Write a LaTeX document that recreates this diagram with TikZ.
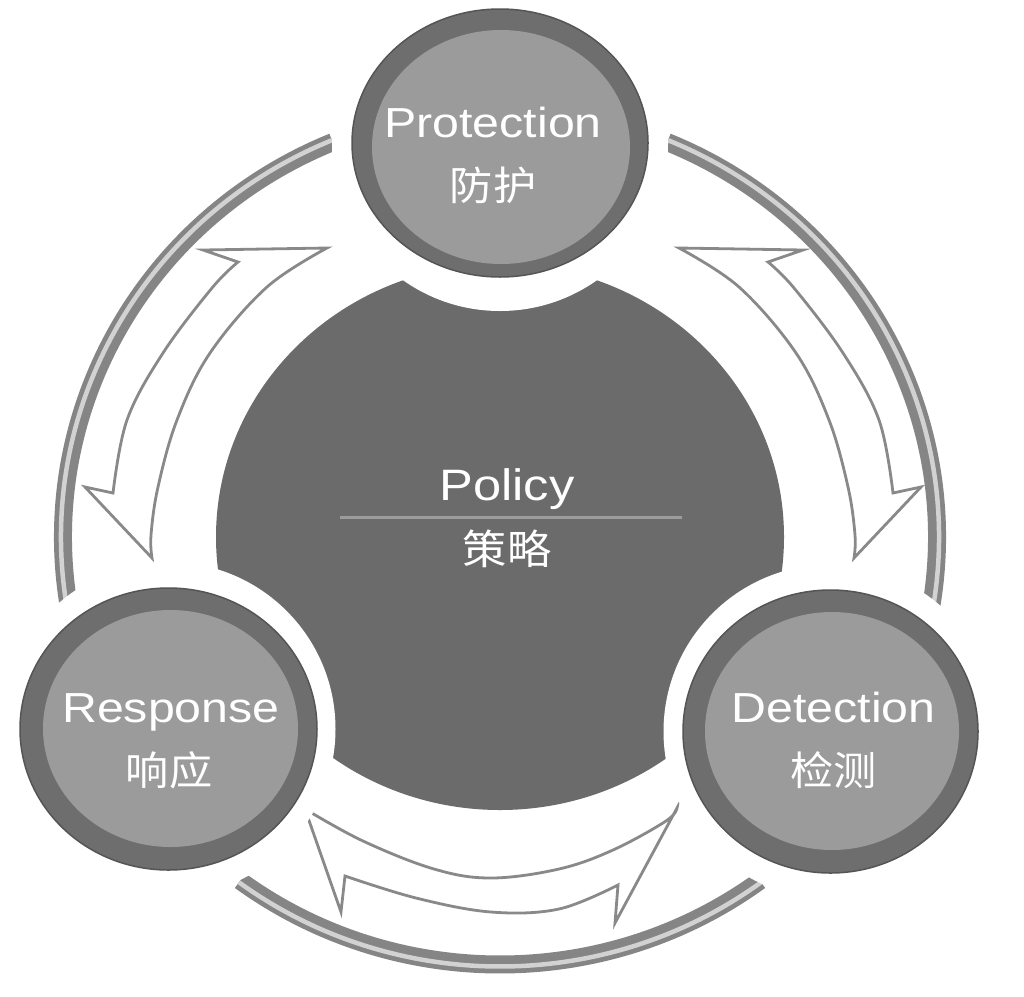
\documentclass[tikz,border=0pt]{standalone}
\usepackage{fontspec}
\setmainfont{Liberation Sans}
\newfontfamily\latfont[FakeStretch=1.15]{Liberation Sans}
\newfontfamily\cjkfont[FakeStretch=1.08]{Noto Sans CJK SC}
\usetikzlibrary{shapes.geometric}
\definecolor{centralgray}{HTML}{6B6B6B}
\definecolor{ringdark}{HTML}{6E6E6E}
\definecolor{ringedge}{HTML}{555555}
\definecolor{innergray}{HTML}{9B9B9B}
\definecolor{arrowgray}{HTML}{898989}
\definecolor{tubegray}{HTML}{858585}
\definecolor{tubelight}{HTML}{D2D2D2}
\definecolor{linegray}{HTML}{9C9C9C}
\begin{document}
\begin{tikzpicture}[x=1pt,y=1pt,yscale=-1,
  latin/.style={text=white, font=\latfont\fontsize{42}{42}\selectfont, inner sep=0, anchor=base},
  cjk/.style={text=white, font=\cjkfont\fontsize{40}{40}\selectfont, inner sep=0, anchor=base},
  blockarrow/.style={draw=arrowgray, line width=2.8, fill=white, line join=miter},
  tube/.style={draw=tubegray, line width=18},
  tubehi/.style={draw=tubelight, line width=4.5},
  disc/.style={ellipse, fill=ringdark, draw=ringedge, line width=1.5, inner sep=0},
  core/.style={ellipse, fill=centralgray, inner sep=0}]
\fill[white] (0,0) rectangle (1024,996);
\useasboundingbox (0,0) rectangle (1024,996);
\coordinate (C) at (500,537);
\coordinate (pc) at (500,143);
\coordinate (rc) at (168.5,729);
\coordinate (dc) at (830.5,731.5);
% outer ring (three segments)
\foreach \a/\b in {112.5/190, 233.5/306.5, 350/427.5}{
  \draw[tube] (C) ++(-\a:437 and 427.5) arc[start angle=-\a, end angle=-\b, x radius=437, y radius=427.5];
  \draw[tubehi] (C) ++(-\a:439 and 429.5) arc[start angle=-\a, end angle=-\b, x radius=439, y radius=429.5];
}
% left arrow
\draw[blockarrow] (203,250) -- (327,248)
  -- plot[smooth, tension=0.6] coordinates {(327,248) (267,287) (210,353) (177,420) (158,487) (151,535) (152,558)}
  -- (85,487) -- (113,493)
  -- plot[smooth, tension=0.6] coordinates {(113,493) (127,420) (163,353) (212,288) (238,262)}
  -- cycle;
% right arrow (mirror)
\begin{scope}[xshift=1006pt, xscale=-1]
\draw[blockarrow] (203,250) -- (327,248)
  -- plot[smooth, tension=0.6] coordinates {(327,248) (267,287) (210,353) (177,420) (158,487) (151,535) (152,558)}
  -- (85,487) -- (113,493)
  -- plot[smooth, tension=0.6] coordinates {(113,493) (127,420) (163,353) (212,288) (238,262)}
  -- cycle;
\end{scope}
% bottom arrow
\draw[blockarrow] (305,809)
  -- plot[smooth, tension=0.6] coordinates {(305,809) (363,841) (434,869) (491,878) (559,869) (613,850) (666,821) (677,808)}
  -- (615,923) -- (618,885)
  -- plot[smooth, tension=0.6] coordinates {(618,885) (559,909) (491,912) (416,898) (345,876)}
  -- (341,912) -- cycle;
% central circle
\node[core, minimum width=568pt, minimum height=546pt] (policy) at (C) {};
% white gaps
\fill[white] (pc) circle[radius=168];
\fill[white] (rc) circle[radius=167];
\fill[white] (dc) circle[radius=167];
% small circles
\node[disc, minimum width=296pt, minimum height=268pt] (prot) at (pc) {};
\fill[innergray] (501,147) ellipse[x radius=129, y radius=117];
\node[disc, minimum width=297pt, minimum height=282pt] (resp) at (rc) {};
\fill[innergray] (170.5,728.5) ellipse[x radius=127.5, y radius=118.5];
\node[disc, minimum width=295pt, minimum height=283pt] (det) at (dc) {};
\fill[innergray] (832,731) ellipse[x radius=127, y radius=119];
% texts
\node[latin] (protEN) at (493,137) {Protection};
\node[cjk] (protZH) at (493,200) {防护};
\node[latin] (respEN) at (171,722) {Response};
\node[cjk] (respZH) at (169,785) {响应};
\node[latin] (detEN) at (833.5,722) {Detection};
\node[cjk] (detZH) at (833.5,785) {检测};
\node[latin, font=\latfont\fontsize{44}{44}\selectfont] (polEN) at (507,500) {Policy};
\node[cjk, font=\cjkfont\fontsize{41}{41}\selectfont] (polZH) at (507,564) {策略};
\draw[draw=linegray, line width=3] (340,517) -- (682,517);
\end{tikzpicture}
\end{document}
